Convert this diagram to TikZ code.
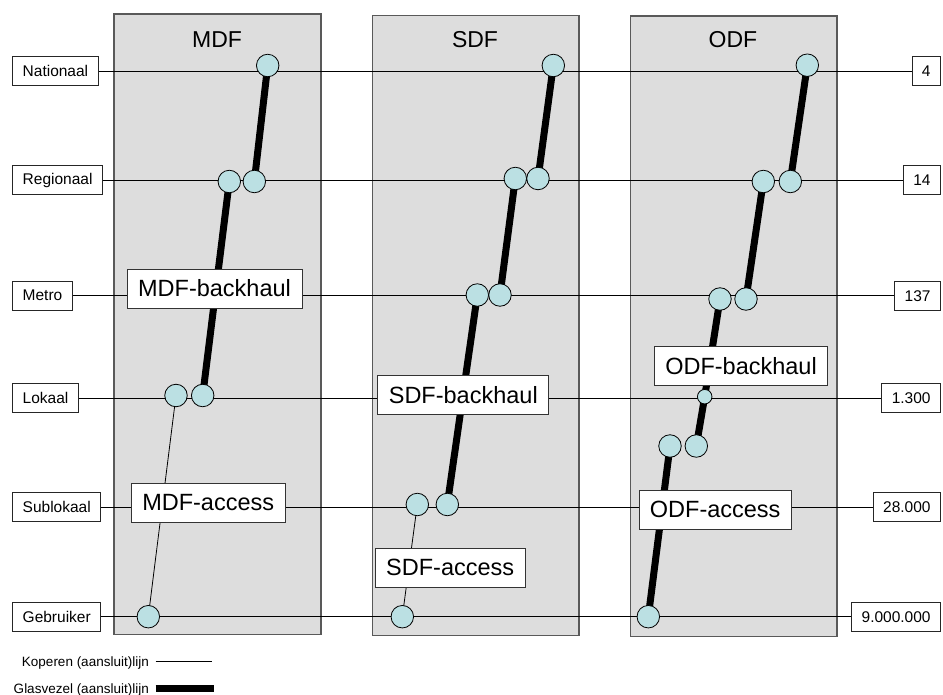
\documentclass[tikz,border=0pt]{standalone}
\usepackage{fontspec}
\setmainfont{Liberation Sans}
\pgfdeclarelayer{panel}
\pgfdeclarelayer{wires}
\pgfsetlayers{panel,wires,main}
\definecolor{nodeblue}{RGB}{187,224,227}
\definecolor{panelgray}{RGB}{221,221,221}
\begin{document}
\begin{tikzpicture}[x=1pt,y=-1pt,
 lvl/.style={draw=black!85, line width=0.8pt, fill=white, inner xsep=10pt, inner ysep=0pt, minimum height=29pt, font=\fontsize{15.5}{18}\selectfont},
 lbl/.style={draw=black!80, line width=0.8pt, fill=white, inner xsep=11pt, inner ysep=0pt, minimum height=39pt, font=\fontsize{23.5}{28}\selectfont},
 dot/.style={circle, draw=black, line width=0.8pt, fill=nodeblue, minimum size=22.5pt, inner sep=0pt},
 sdot/.style={dot, minimum size=14.5pt},
 panel/.style={draw=black!65, line width=1.2pt, fill=panelgray},
 fiber/.style={line width=7pt},
 copper/.style={line width=0.8pt},
 level/.style={line width=0.9pt},
 ttl/.style={font=\fontsize{23}{28}\selectfont, anchor=base},
 leg/.style={font=\fontsize{13.5}{16}\selectfont, anchor=base east, inner sep=0pt}]

\useasboundingbox (0,0) rectangle (943,695);

% panels
\begin{pgfonlayer}{panel}
\draw[panel] (114,14) rectangle (321,634.3);
\draw[panel] (372.5,15.7) rectangle (579,635.7);
\draw[panel] (630.7,16) rectangle (837,636.7);
\end{pgfonlayer}

\node[ttl] (tM) at (217,47.7) {MDF};
\node[ttl] (tS) at (475,47.7) {SDF};
\node[ttl] (tO) at (733,47.7) {ODF};

% level boxes
\node[lvl, anchor=west] (lN) at (12.3,71.3) {Nationaal};
\node[lvl, anchor=west] (lR) at (12.3,180.3) {Regionaal};
\node[lvl, anchor=west] (lM) at (12.3,295.7) {Metro};
\node[lvl, anchor=west] (lL) at (12.3,398.3) {Lokaal};
\node[lvl, anchor=west] (lS) at (12.3,507.3) {Sublokaal};
\node[lvl, anchor=west] (lG) at (12.3,616.7) {Gebruiker};

\node[lvl, anchor=east] (rN) at (941,71.3) {4};
\node[lvl, anchor=east] (rR) at (941,180.3) {14};
\node[lvl, anchor=east] (rM) at (941,295.7) {137};
\node[lvl, anchor=east] (rL) at (941,398.3) {1.300};
\node[lvl, anchor=east] (rS) at (941,507.3) {28.000};
\node[lvl, anchor=east] (rG) at (941,616.7) {9.000.000};

% circles MDF
\node[dot] (mN) at (267.7,65.5) {};
\node[dot] (mRl) at (229.3,181.5) {};
\node[dot] (mRr) at (254.3,181.5) {};
\node[dot] (mLl) at (176,395.5) {};
\node[dot] (mLr) at (202.7,395.5) {};
\node[dot] (mG) at (148.3,616.7) {};
% circles SDF
\node[dot] (sN) at (553.3,65.5) {};
\node[dot] (sRl) at (515.3,178.5) {};
\node[dot] (sRr) at (538,178.5) {};
\node[dot] (sMl) at (477.3,295) {};
\node[dot] (sMr) at (500,295) {};
\node[dot] (sSl) at (417.3,504.5) {};
\node[dot] (sSr) at (447.3,504.5) {};
\node[dot] (sG) at (402.3,616.7) {};
% circles ODF
\node[dot] (oN) at (807.3,65.2) {};
\node[dot] (oRl) at (763.3,181.5) {};
\node[dot] (oRr) at (790.3,181.5) {};
\node[dot] (oMl) at (720,299) {};
\node[dot] (oMr) at (746,299) {};
\node[sdot] (oL) at (704.7,396.7) {};
\node[dot] (oXl) at (670,446) {};
\node[dot] (oXr) at (696.3,446) {};
\node[dot] (oG) at (648.3,616.7) {};

\begin{pgfonlayer}{wires}
\draw[level] (lN.east) -- (rN.west);
\draw[level] (lR.east) -- (rR.west);
\draw[level] (lM.east) -- (rM.west);
\draw[level] (lL.east) -- (rL.west);
\draw[level] (lS.east) -- (rS.west);
\draw[level] (lG.east) -- (rG.west);

\draw[fiber] (mN.center) -- (mRr.center);
\draw[fiber] (mRl.center) -- (mLr.center);
\draw[copper] (mLl.center) -- (mG.center);

\draw[fiber] (sN.center) -- (sRr.center);
\draw[fiber] (sRl.center) -- (sMr.center);
\draw[fiber] (sMl.center) -- (sSr.center);
\draw[copper] (sSl.center) -- (sG.center);

\draw[fiber] (oN.center) -- (oRr.center);
\draw[fiber] (oRl.center) -- (oMr.center);
\draw[fiber] (oMl.center) -- (oL.center) -- (oXr.center);
\draw[fiber] (oXl.center) -- (oG.center);
\end{pgfonlayer}

% label boxes
\node[lbl] (mB) at (214.5,288.5) {MDF-backhaul};
\node[lbl] (mA) at (208.2,503) {MDF-access};
\node[lbl] (sB) at (463.3,395.3) {SDF-backhaul};
\node[lbl] (sA) at (450.2,567.5) {SDF-access};
\node[lbl] (oB) at (741,365.7) {ODF-backhaul};
\node[lbl] (oA) at (715.2,509.7) {ODF-access};

% legend
\node[leg] (kop) at (149,666.7) {Koperen (aansluit)lijn};
\node[leg] (gla) at (149,693) {Glasvezel (aansluit)lijn};
\coordinate (k1) at (155.7,661.7);
\coordinate (k2) at (212.3,661.7);
\coordinate (g1) at (155.7,688.2);
\coordinate (g2) at (213.7,688.2);
\draw[copper] (k1) -- (k2);
\draw[fiber] (g1) -- (g2);
\end{tikzpicture}
\end{document}
